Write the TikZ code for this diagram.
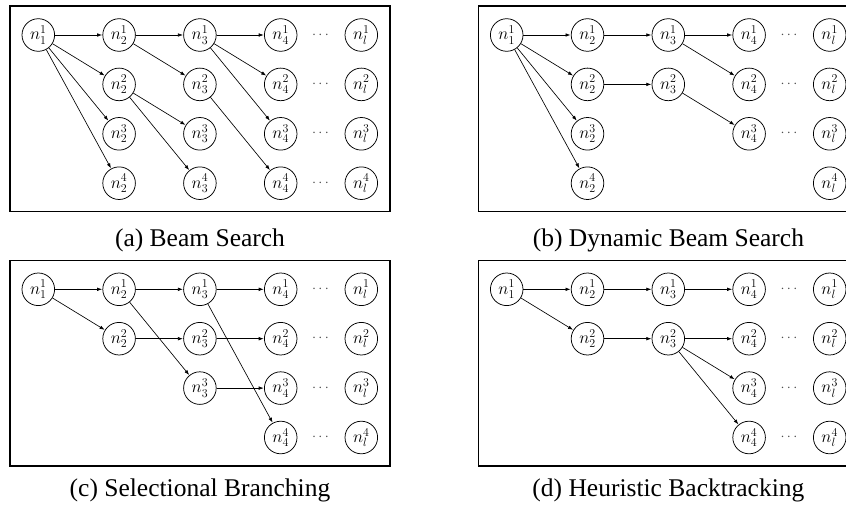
\documentclass[tikz,border=0pt]{standalone}
\usepackage[no-math]{fontspec}
\setmainfont{Liberation Serif}
\usetikzlibrary{arrows.meta}

% n^{row}_{col} state node of panel #1
\newcommand\stnode[3]{\node[nd] (#1#2#3) at ({38.3+80.8*(#3-1)},{35+49.4*(#2-1)}) {$n^{#2}_{#3}$};}
% last-column node n^{row}_{l}
\newcommand\stlast[2]{\node[nd] (#1#2l) at (361.3,{35+49.4*(#2-1)}) {$n^{#2}_{l}$};}
% ellipsis between column 4 and column l
\newcommand\stdots[2]{\node[dotsnode] (#1#2d) at (320.5,{35+49.4*(#2-1)}) {$\cdots$};}

\tikzset{
  nd/.style={circle, draw, line width=0.75pt, minimum size=32.6pt, inner sep=0pt,
             font=\fontsize{16.5}{18}\selectfont},
  ed/.style={-{Latex[length=5pt,width=3.6pt]}, line width=0.65pt, shorten >=0.3pt},
  panelframe/.style={draw, line width=1.2pt},
  dotsnode/.style={font=\fontsize{14}{16}\selectfont, text=black!70},
  captext/.style={font=\fontsize{25.5}{30}\selectfont}
}

\begin{document}
\begin{tikzpicture}[x=1pt, y=-1pt]
\useasboundingbox (0,0) rectangle (846,508);
\clip (0,0) rectangle (846,508);

% ---------------- (a) Beam Search ----------------
\begin{scope}
  \draw[panelframe] (10,6) rectangle (390,211.7);
  \stnode{a}{1}{1}
  \stnode{a}{1}{2} \stnode{a}{2}{2} \stnode{a}{3}{2} \stnode{a}{4}{2}
  \stnode{a}{1}{3} \stnode{a}{2}{3} \stnode{a}{3}{3} \stnode{a}{4}{3}
  \stnode{a}{1}{4} \stnode{a}{2}{4} \stnode{a}{3}{4} \stnode{a}{4}{4}
  \stdots{a}{1} \stdots{a}{2} \stdots{a}{3} \stdots{a}{4}
  \stlast{a}{1} \stlast{a}{2} \stlast{a}{3} \stlast{a}{4}
  \draw[ed] (a11) -- (a12);
  \draw[ed] (a11) -- (a22);
  \draw[ed] (a11) -- (a32);
  \draw[ed] (a11) -- (a42);
  \draw[ed] (a12) -- (a13);
  \draw[ed] (a12) -- (a23);
  \draw[ed] (a22) -- (a33);
  \draw[ed] (a22) -- (a43);
  \draw[ed] (a13) -- (a14);
  \draw[ed] (a13) -- (a24);
  \draw[ed] (a13) -- (a34);
  \draw[ed] (a23) -- (a44);
  \node[captext] (capa) at (200,240.5) {(a) Beam Search};
\end{scope}

% ---------------- (b) Dynamic Beam Search ----------------
\begin{scope}[shift={(468.4,0)}]
  \draw[panelframe] (10,6) rectangle (390,211.7);
  \stnode{b}{1}{1}
  \stnode{b}{1}{2} \stnode{b}{2}{2} \stnode{b}{3}{2} \stnode{b}{4}{2}
  \stnode{b}{1}{3} \stnode{b}{2}{3}
  \stnode{b}{1}{4} \stnode{b}{2}{4} \stnode{b}{3}{4}
  \stdots{b}{1} \stdots{b}{2} \stdots{b}{3}
  \stlast{b}{1} \stlast{b}{2} \stlast{b}{3} \stlast{b}{4}
  \draw[ed] (b11) -- (b12);
  \draw[ed] (b11) -- (b22);
  \draw[ed] (b11) -- (b32);
  \draw[ed] (b11) -- (b42);
  \draw[ed] (b12) -- (b13);
  \draw[ed] (b22) -- (b23);
  \draw[ed] (b13) -- (b14);
  \draw[ed] (b13) -- (b24);
  \draw[ed] (b23) -- (b34);
  \node[captext] (capb) at (200,240.5) {(b) Dynamic Beam Search};
\end{scope}

% ---------------- (c) Selectional Branching ----------------
\begin{scope}[shift={(0,254.3)}]
  \draw[panelframe] (10,6) rectangle (390,211.7);
  \stnode{c}{1}{1}
  \stnode{c}{1}{2} \stnode{c}{2}{2}
  \stnode{c}{1}{3} \stnode{c}{2}{3} \stnode{c}{3}{3}
  \stnode{c}{1}{4} \stnode{c}{2}{4} \stnode{c}{3}{4} \stnode{c}{4}{4}
  \stdots{c}{1} \stdots{c}{2} \stdots{c}{3} \stdots{c}{4}
  \stlast{c}{1} \stlast{c}{2} \stlast{c}{3} \stlast{c}{4}
  \draw[ed] (c11) -- (c12);
  \draw[ed] (c11) -- (c22);
  \draw[ed] (c12) -- (c13);
  \draw[ed] (c12) -- (c33);
  \draw[ed] (c22) -- (c23);
  \draw[ed] (c13) -- (c14);
  \draw[ed] (c13) -- (c44);
  \draw[ed] (c23) -- (c24);
  \draw[ed] (c33) -- (c34);
  \node[captext] (capc) at (200,236.5) {(c) Selectional Branching};
\end{scope}

% ---------------- (d) Heuristic Backtracking ----------------
\begin{scope}[shift={(468.4,254.3)}]
  \draw[panelframe] (10,6) rectangle (390,211.7);
  \stnode{d}{1}{1}
  \stnode{d}{1}{2} \stnode{d}{2}{2}
  \stnode{d}{1}{3} \stnode{d}{2}{3}
  \stnode{d}{1}{4} \stnode{d}{2}{4} \stnode{d}{3}{4} \stnode{d}{4}{4}
  \stdots{d}{1} \stdots{d}{2} \stdots{d}{3} \stdots{d}{4}
  \stlast{d}{1} \stlast{d}{2} \stlast{d}{3} \stlast{d}{4}
  \draw[ed] (d11) -- (d12);
  \draw[ed] (d11) -- (d22);
  \draw[ed] (d12) -- (d13);
  \draw[ed] (d22) -- (d23);
  \draw[ed] (d13) -- (d14);
  \draw[ed] (d23) -- (d24);
  \draw[ed] (d23) -- (d34);
  \draw[ed] (d23) -- (d44);
  \node[captext] (capd) at (200,236.5) {(d) Heuristic Backtracking};
\end{scope}
\end{tikzpicture}
\end{document}
